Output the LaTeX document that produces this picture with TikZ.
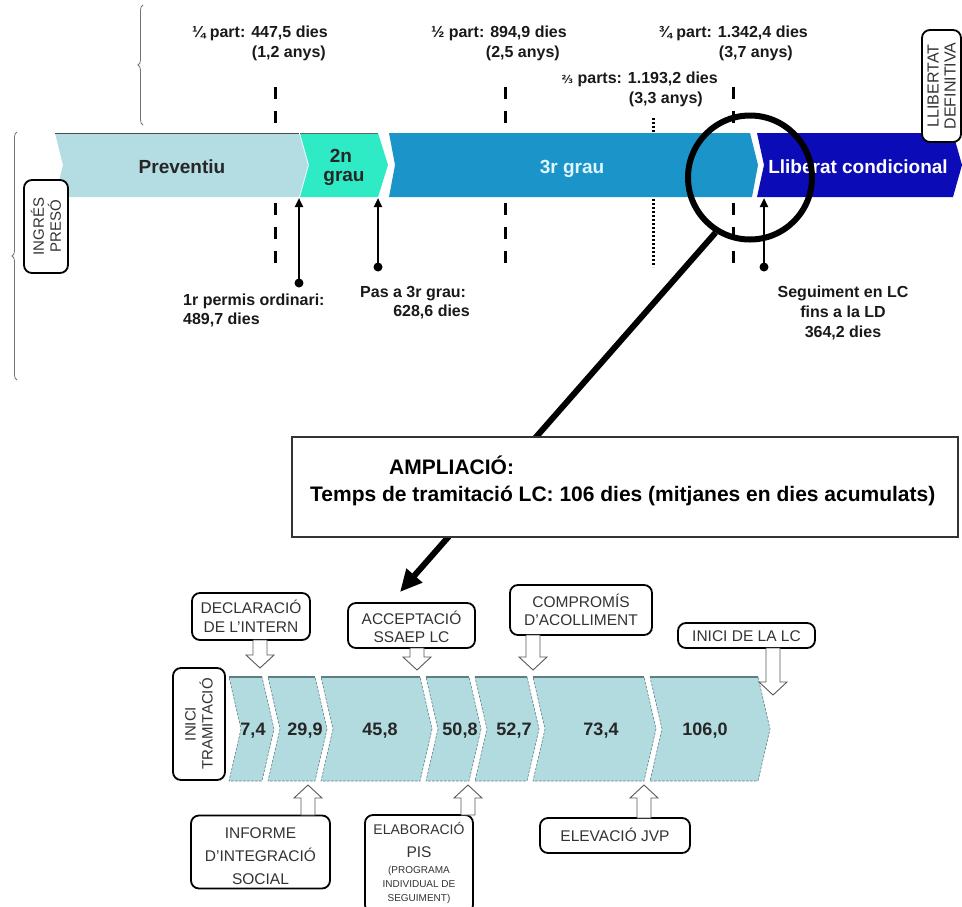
\documentclass[tikz,border=0pt]{standalone}
\usepackage{fontspec}
\setmainfont{Liberation Sans}
\newfontfamily\djv{DejaVu Sans}
\usetikzlibrary{arrows.meta,decorations.pathreplacing,calc}
\definecolor{prevc}{HTML}{B3DDE3}
\definecolor{segc}{HTML}{2EEBC6}
\definecolor{terc}{HTML}{1B95C9}
\definecolor{llibc}{HTML}{0B0BB8}
\definecolor{chevc}{HTML}{B2DBE0}
\definecolor{chevl}{HTML}{5E7E86}
\definecolor{txtg}{HTML}{333333}
\newcommand{\hdown}[3]{\draw[harrow] ({#1-7},#2) -- ({#1+7},#2) -- ({#1+7},{#3-13}) -- ({#1+14},{#3-13}) -- (#1,#3) -- ({#1-14},{#3-13}) -- ({#1-7},{#3-13}) -- cycle;}
\newcommand{\hup}[3]{\draw[harrow] ({#1-7},#2) -- ({#1+7},#2) -- ({#1+7},{#3+13}) -- ({#1+14},{#3+13}) -- (#1,#3) -- ({#1-14},{#3+13}) -- ({#1-7},{#3+13}) -- cycle;}
\newcommand{\chev}[5]{%
\path[chevfill] (#1,677) -- (#2,677) -- ({#2+12},729) -- (#2,781) -- (#1,781) -- ({#1+12},729) -- cycle;
\draw[chevtop] (#1,677) -- (#2,677);
\node[numtxt] (#3) at (#5,735) {#4};}
\begin{document}
\begin{tikzpicture}[x=1pt,y=-1pt,
  lbl/.style={font=\fontsize{16}{20}\selectfont\bfseries, inner sep=0pt, text=black!90},
  bandtxt/.style={font=\fontsize{19}{23}\selectfont\bfseries, inner sep=0pt, anchor=base},
  evbox/.style={draw, rounded corners=8pt, line width=1.8pt, fill=white, inner sep=0pt},
  evtxt/.style={font=\fontsize{15.5}{19}\selectfont, text=txtg, inner sep=0pt, anchor=base},
  smalltxt/.style={font=\fontsize{10}{12}\selectfont, text=txtg, inner sep=0pt, anchor=base},
  rottxt/.style={font=\fontsize{15}{17}\selectfont, text=txtg, align=center},
  harrow/.style={draw=black!65, line width=0.9pt, fill=white},
  chevfill/.style={fill=chevc, draw=chevl, line width=0.6pt, dash pattern=on 2.5pt off 1.5pt},
  chevtop/.style={draw=chevl, line width=2pt},
  numtxt/.style={font=\fontsize{18}{22}\selectfont\bfseries, text=black!85, inner sep=0pt, anchor=base},
  qmark/.style={line width=3pt, dash pattern=on 12pt off 12pt},
  dmark/.style={line width=3pt, dash pattern=on 2pt off 2pt},
  dotn/.style={circle, fill=black, minimum size=9pt, inner sep=0pt},
  ptr/.style={line width=2.2pt, -{Triangle[length=9pt,width=8pt]}},
  bracest/.style={decorate, decoration={brace, amplitude=5pt}, draw=black!55, line width=0.8pt}
]
\useasboundingbox (0,0) rectangle (962,906);

% braces
\draw[bracest] (143,125) -- (143,5);
\draw[bracest] (17,380) -- (17,132);

% top band
\fill[prevc] (55,133) -- (299,133) -- (308,165) -- (299,197) -- (55,197) -- (63,165) -- cycle;
\draw[black!70, line width=1pt] (55,133) -- (299,133);
\fill[segc] (300,133) -- (378,133) -- (388,165) -- (378,197) -- (300,197) -- (309,165) -- cycle;
\draw[black!60, line width=0.8pt] (300,133) -- (378,133);
\fill[terc] (389,133) -- (750,133) -- (758,165) -- (752,197) -- (389,197) -- (395,165) -- cycle;
\fill[llibc] (757,133) -- (953,133) -- (962,165) -- (953,197) -- (757,197) -- (764,165) -- cycle;

\node[bandtxt, text=black!85] (tprev) at (182,173) {Preventiu};
\node[bandtxt, text=black!85] (t2a) at (341,162) {2n};
\node[bandtxt, text=black!85] (t2b) at (344,181) {grau};
\node[bandtxt, text=white!88!cyan] (t3) at (572,173) {3r grau};
\node[bandtxt, text=white] (tlc) at (858,173) {Lliberat condicional};

% top labels
\node[lbl, anchor=base east] (q1a) at (328,37) {¼ part: 447,5 dies};
\node[lbl, anchor=base east] (q1b) at (326,57) {(1,2 anys)};
\node[lbl, anchor=base east] (q2a) at (567,37) {½ part: 894,9 dies};
\node[lbl, anchor=base east] (q2b) at (560,57) {(2,5 anys)};
\node[lbl, anchor=base east] (q3a) at (808,37) {¾ part: 1.342,4 dies};
\node[lbl, anchor=base east] (q3b) at (793,57) {(3,7 anys)};
\node[lbl, anchor=base east] (q4a) at (718,83) {{\djv\fontsize{11}{13}\selectfont\bfseries ⅔} parts: 1.193,2 dies};
\node[lbl, anchor=base east] (q4b) at (703,103) {(3,3 anys)};

% marks
\draw[qmark] (275,87) -- (275,123);
\draw[qmark] (275,203) -- (275,263);
\draw[qmark] (505,87) -- (505,123);
\draw[qmark] (505,203) -- (505,263);
\draw[qmark] (733,87) -- (733,123);
\draw[qmark] (733,203) -- (733,263);
\draw[dmark] (653,118) -- (653,133);
\draw[dmark] (653,199) -- (653,267);

% event arrows on top band
\node[dotn] (p1) at (299,283) {};
\coordinate (e1) at (299,198);
\draw[ptr] (p1.center) -- (e1);
\node[dotn] (p2) at (378,267) {};
\coordinate (e2) at (378,198);
\draw[ptr] (p2.center) -- (e2);
\node[dotn] (p3) at (764,267) {};
\coordinate (e3) at (764,198);
\draw[ptr] (p3.center) -- (e3);

\node[lbl, anchor=base west] (l1a) at (183,305) {1r permis ordinari:};
\node[lbl, anchor=base west] (l1b) at (183,324) {489,7 dies};
\node[lbl, anchor=base west] (l2a) at (360,297) {Pas a 3r grau:};
\node[lbl, anchor=base east] (l2b) at (470,316) {628,6 dies};
\node[lbl, anchor=base] (l3a) at (843,297) {Seguiment en LC};
\node[lbl, anchor=base] (l3b) at (843,317) {fins a la LD};
\node[lbl, anchor=base] (l3c) at (843,337) {364,2 dies};

% rotated boxes
\node[evbox, rotate=90, minimum width=93pt, minimum height=44pt] (ingres) at (46,226.5) {};
\node[rottxt, rotate=90] at (ingres.center) {INGRÉS\\PRESÓ};
\node[evbox, rotate=90, minimum width=112pt, minimum height=39pt] (lldef) at (941.5,86) {};
\node[rottxt, rotate=90, font=\fontsize{16}{17}\selectfont] at (lldef.center) {LLIBERTAT\\DEFINITIVA};

% lens
\node[circle, draw, line width=6pt, minimum size=124pt, inner sep=0pt] (lens) at (750,177.5) {};
\coordinate (ztip) at (400,592);
\draw[line width=6pt, -{Triangle[length=22pt,width=20pt]}] (lens.238) -- (ztip);

% ampliacio box
\node[draw=black!80, line width=1.5pt, fill=white, minimum width=666pt, minimum height=100pt, inner sep=0pt] (amp) at (625,487) {};
\node[font=\fontsize{21}{25}\selectfont\bfseries, inner sep=0pt, anchor=base west] (amp1) at (389,474) {AMPLIACIÓ:};
\node[font=\fontsize{21}{25}\selectfont\bfseries, inner sep=0pt, anchor=base west] (amp2) at (310,501) {Temps de tramitació LC: 106 dies (mitjanes en dies acumulats)};

% bottom chevrons
\chev{229}{262}{n1}{7,4}{253}
\chev{268}{315}{n2}{29,9}{305}
\chev{321}{420}{n3}{45,8}{380}
\chev{426}{469}{n4}{50,8}{460}
\chev{475}{527}{n5}{52,7}{514}
\chev{533}{644}{n6}{73,4}{601}
\chev{650}{758}{n7}{106,0}{705}

\node[evbox, rotate=90, minimum width=112pt, minimum height=52pt] (inici) at (199,724) {};
\node[rottxt, rotate=90] at (inici.center) {INICI\\TRAMITACIÓ};

% boxes above
\node[evbox, minimum width=118pt, minimum height=47pt] (decl) at (251,616.5) {};
\node[evtxt] at (251,613) {DECLARACIÓ};
\node[evtxt] at (251,632) {DE L'INTERN};
\node[evbox, minimum width=127pt, minimum height=45pt] (accep) at (411.5,625.5) {};
\node[evtxt] at (411.5,624) {ACCEPTACIÓ};
\node[evtxt] at (411.5,642) {SSAEP LC};
\node[evbox, minimum width=142pt, minimum height=50pt] (comp) at (581,610) {};
\node[evtxt] at (581,607) {COMPROMÍS};
\node[evtxt] at (581,625) {D'ACOLLIMENT};
\node[evbox, minimum width=137pt, minimum height=25pt] (inlc) at (746.5,635.5) {};
\node[evtxt] at (746.5,641) {INICI DE LA LC};

\hdown{260}{640}{668}
\hdown{417}{648}{670}
\hdown{533}{635}{670}
\hdown{773}{648}{695}

% boxes below
\node[evbox, minimum width=139pt, minimum height=73pt] (inf) at (260.5,852) {};
\node[evtxt] at (260.5,838) {INFORME};
\node[evtxt] at (260.5,861) {D'INTEGRACIÓ};
\node[evtxt] at (260.5,884) {SOCIAL};
\node[evbox, minimum width=108pt, minimum height=98pt] (elab) at (419,864) {};
\node[evtxt, font=\fontsize{14}{17}\selectfont] at (419,834) {ELABORACIÓ};
\node[evtxt] at (419,857) {PIS};
\node[smalltxt] at (419,873) {(PROGRAMA};
\node[smalltxt] at (419,887) {INDIVIDUAL DE};
\node[smalltxt] at (419,901) {SEGUIMENT)};
\node[evbox, minimum width=150pt, minimum height=35pt] (elev) at (615,835.5) {};
\node[evtxt] at (615,841) {ELEVACIÓ JVP};

\hup{308}{815}{785}
\hup{468}{815}{785}
\hup{644}{818}{785}
\end{tikzpicture}
\end{document}
